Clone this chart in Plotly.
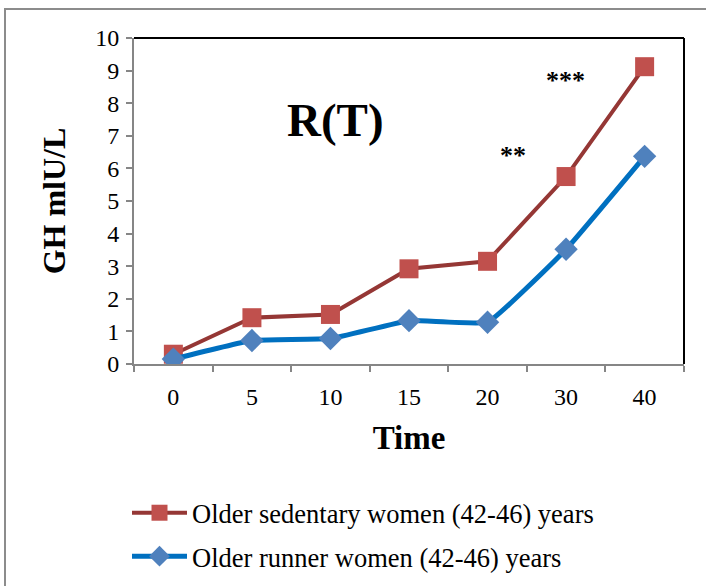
import plotly.graph_objects as go

times = ["0", "5", "10", "15", "20", "30", "40"]
sedentary = [0.3, 1.42, 1.52, 2.92, 3.15, 5.75, 9.12]
runner = [0.15, 0.72, 0.78, 1.33, 1.28, 3.52, 6.37]
y_ticks = list(range(0, 11))

W, H = 706, 586
ML, MR, MT, MB = 134, 22, 38, 222
PW = W - ML - MR
PH = H - MT - MB

def px_x(p):
    return (p - ML) / PW

def px_y(p):
    return (H - MB - p) / PH

FONT = "Liberation Serif, Times New Roman, serif"

fig = go.Figure()
fig.add_trace(go.Scatter(
    x=times, y=sedentary, mode="lines+markers",
    name="Older sedentary women (42-46) years",
    line=dict(color="#953735", width=4),
    marker=dict(symbol="square", size=19, color="#C0504D"),
    legendgroup="a",
))
fig.add_trace(go.Scatter(
    x=times, y=runner, mode="lines+markers",
    name="Older runner women (42-46) years",
    line=dict(color="#0070C0", width=5, shape="spline", smoothing=0.3),
    marker=dict(symbol="diamond", size=18, color="#4F81BD"),
    legendgroup="b",
))

fig.update_layout(
    width=W, height=H,
    margin=dict(l=ML, r=MR, t=MT, b=MB, autoexpand=False),
    paper_bgcolor="white", plot_bgcolor="white",
    font=dict(family=FONT, color="black", size=24),
    showlegend=True,
    legend=dict(
        x=px_x(127), y=px_y(489), xanchor="left", yanchor="top",
        font=dict(family=FONT, size=26.5, color="black"),
        traceorder="grouped", tracegroupgap=6,
        bgcolor="rgba(0,0,0,0)", itemwidth=55,
    ),
    xaxis=dict(
        type="category", tickson="boundaries", automargin=False,
        showline=True, linecolor="#868686", linewidth=2,
        ticks="outside", ticklen=6, tickcolor="#868686", tickwidth=1.5,
        showgrid=False, zeroline=False, ticklabelstandoff=10,
        tickfont=dict(family=FONT, size=24),
        title=dict(text="<b>Time</b>", font=dict(family=FONT, size=33), standoff=17),
    ),
    yaxis=dict(
        range=[0, 10], tickvals=y_ticks, automargin=False,
        showline=True, linecolor="#868686", linewidth=2,
        ticks="outside", ticklen=6, tickcolor="#868686", tickwidth=1.5,
        showgrid=False, zeroline=False, ticklabelstandoff=2,
        tickfont=dict(family=FONT, size=24),
        title=dict(text="<b>GH mlU/L</b>", font=dict(family=FONT, size=32), standoff=20),
    ),
    shapes=[
        dict(type="line", xref="paper", yref="paper", x0=0, x1=1, y0=1, y1=1,
             line=dict(color="black", width=2)),
        dict(type="line", xref="paper", yref="paper", x0=1, x1=1, y0=0, y1=1,
             line=dict(color="black", width=2)),
        dict(type="rect", xref="paper", yref="paper",
             x0=px_x(5), x1=px_x(730), y0=px_y(620), y1=px_y(9),
             line=dict(color="#8C8C8C", width=2), layer="below"),
    ],
    annotations=[
        dict(text="<b>R(T)</b>", xref="paper", yref="paper",
             x=px_x(335), y=px_y(120), xanchor="center", yanchor="middle", showarrow=False,
             font=dict(family=FONT, size=47, color="black")),
        dict(text="<b>**</b>", xref="paper", yref="paper",
             x=px_x(513), y=px_y(155), xanchor="center", yanchor="middle", showarrow=False,
             font=dict(family=FONT, size=26, color="black")),
        dict(text="<b>***</b>", xref="paper", yref="paper",
             x=px_x(565), y=px_y(80), xanchor="center", yanchor="middle", showarrow=False,
             font=dict(family=FONT, size=26, color="black")),
    ],
)

fig.write_html("out.html")
